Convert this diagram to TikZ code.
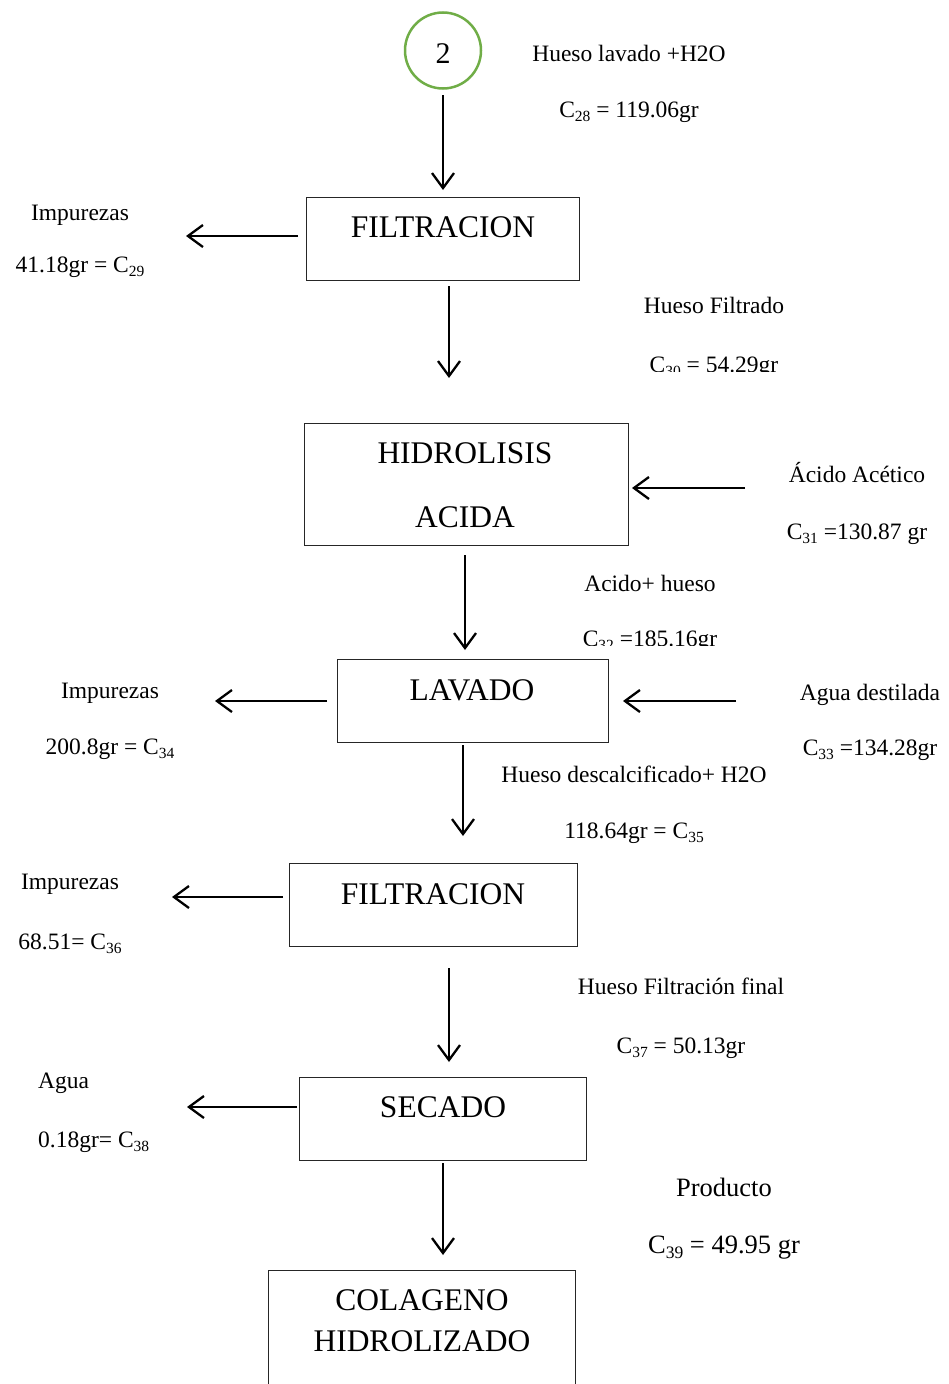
\documentclass[tikz,border=0pt]{standalone}
\usepackage{fontspec}
\setmainfont{Liberation Serif}
\usetikzlibrary{arrows.meta}
\definecolor{ringgreen}{RGB}{112,173,71}
\newcommand\sbs[1]{\raisebox{-0.2em}{\fontsize{15.5}{16}\selectfont #1}}
\newcommand\sbsb[1]{\raisebox{-0.2em}{\fontsize{17.5}{18}\selectfont #1}}
\tikzset{
  lbl/.style={font=\fontsize{23.5}{28}\selectfont, anchor=base, inner sep=0pt},
  lblbig/.style={font=\fontsize{26.5}{30}\selectfont, anchor=base, inner sep=0pt},
  boxtxt/.style={font=\fontsize{31.5}{38}\selectfont, anchor=base, inner sep=0pt},
  stepbox/.style={draw=black!85, line width=1.4pt, anchor=north west, inner sep=0pt},
  flow/.style={line width=2.3pt, -{Straight Barb[length=15pt,width=22pt,line width=2.3pt]}},
}
\begin{document}
\begin{tikzpicture}[x=1pt,y=-1pt]
\clip (0,0) rectangle (948,1384);

% connector start
\node[circle, draw=ringgreen, line width=2.5pt, minimum size=76pt, inner sep=0pt] (c2) at (443,50.5) {};
\node[boxtxt, font=\fontsize{30}{36}\selectfont] (c2t) at (443,63) {2};
\node[lbl] (in28a) at (629,61) {Hueso lavado +H2O};
\node[lbl] (in28b) at (629,117) {C\sbs{28} = 119.06gr};

% process boxes
\node[stepbox, minimum width=273pt, minimum height=83pt] (f1) at (306,197) {};
\node[boxtxt] (f1t) at (443,237) {FILTRACION};
\node[stepbox, minimum width=324pt, minimum height=122pt] (hid) at (304,423) {};
\node[boxtxt] (hidt1) at (465,463) {HIDROLISIS};
\node[boxtxt] (hidt2) at (465,527) {ACIDA};
\node[stepbox, minimum width=271pt, minimum height=83pt] (lav) at (337,659) {};
\node[boxtxt] (lavt) at (472,700) {LAVADO};
\node[stepbox, minimum width=288pt, minimum height=83pt] (f2) at (289,863) {};
\node[boxtxt] (f2t) at (433,904) {FILTRACION};
\node[stepbox, minimum width=287pt, minimum height=83pt] (sec) at (299,1077) {};
\node[boxtxt] (sect) at (443,1117) {SECADO};
\node[stepbox, minimum width=307pt, minimum height=130pt] (col) at (268,1270) {};
\node[boxtxt] (colt1) at (422,1310) {COLAGENO};
\node[boxtxt] (colt2) at (422,1351) {HIDROLIZADO};

% stream labels
\node[lbl] (o29a) at (80,220) {Impurezas};
\node[lbl] (o29b) at (80,272) {41.18gr = C\sbs{29}};
\node[lbl] (s30a) at (714,313) {Hueso Filtrado};
\begin{scope}
  \clip (600,330) rectangle (948,371);
  \node[lbl] (s30b) at (714,372) {C\sbs{30} = 54.29gr};
\end{scope}
\node[lbl] (i31a) at (857,482) {Ácido Acético};
\node[lbl] (i31b) at (857,539) {C\sbs{31} =130.87 gr};
\node[lbl] (s32a) at (650,591) {Acido+ hueso};
\begin{scope}
  \clip (560,600) rectangle (760,645);
  \node[lbl] (s32b) at (650,646) {C\sbs{32} =185.16gr};
\end{scope}
\node[lbl] (o34a) at (110,698) {Impurezas};
\node[lbl] (o34b) at (110,754) {200.8gr = C\sbs{34}};
\node[lbl] (i33a) at (870,700) {Agua destilada};
\node[lbl] (i33b) at (870,755) {C\sbs{33} =134.28gr};
\node[lbl] (s35a) at (634,782) {Hueso descalcificado+ H2O};
\node[lbl] (s35b) at (634,838) {118.64gr = C\sbs{35}};
\node[lbl] (o36a) at (70,889) {Impurezas};
\node[lbl] (o36b) at (70,949) {68.51= C\sbs{36}};
\node[lbl] (s37a) at (681,994) {Hueso Filtración final};
\node[lbl] (s37b) at (681,1053) {C\sbs{37} = 50.13gr};
\node[lbl, anchor=base west] (o38a) at (38,1088) {Agua};
\node[lbl, anchor=base west] (o38b) at (38,1147) {0.18gr= C\sbs{38}};
\node[lblbig] (s39a) at (724,1196) {Producto};
\node[lblbig] (s39b) at (724,1253) {C\sbsb{39} = 49.95 gr};

% connector end points
\coordinate (a0s) at (443,95);   \coordinate (a0e) at (443,190);
\coordinate (a1s) at (298,236);  \coordinate (a1e) at (186,236);
\coordinate (a2s) at (449,286);  \coordinate (a2e) at (449,378);
\coordinate (a3s) at (745,488);  \coordinate (a3e) at (632,488);
\coordinate (a4s) at (465,555);  \coordinate (a4e) at (465,650);
\coordinate (a5s) at (327,701);  \coordinate (a5e) at (215,701);
\coordinate (a6s) at (736,701);  \coordinate (a6e) at (623,701);
\coordinate (a7s) at (463,745);  \coordinate (a7e) at (463,836);
\coordinate (a8s) at (283,897);  \coordinate (a8e) at (172,897);
\coordinate (a9s) at (449,968);  \coordinate (a9e) at (449,1062);
\coordinate (a10s) at (297,1107); \coordinate (a10e) at (187,1107);
\coordinate (a11s) at (443,1163); \coordinate (a11e) at (443,1255);

% flow arrows
\draw[flow] (a0s) -- (a0e);
\draw[flow] (a1s) -- (a1e);
\draw[flow] (a2s) -- (a2e);
\draw[flow] (a3s) -- (a3e);
\draw[flow] (a4s) -- (a4e);
\draw[flow] (a5s) -- (a5e);
\draw[flow] (a6s) -- (a6e);
\draw[flow] (a7s) -- (a7e);
\draw[flow] (a8s) -- (a8e);
\draw[flow] (a9s) -- (a9e);
\draw[flow] (a10s) -- (a10e);
\draw[flow] (a11s) -- (a11e);
\end{tikzpicture}
\end{document}
